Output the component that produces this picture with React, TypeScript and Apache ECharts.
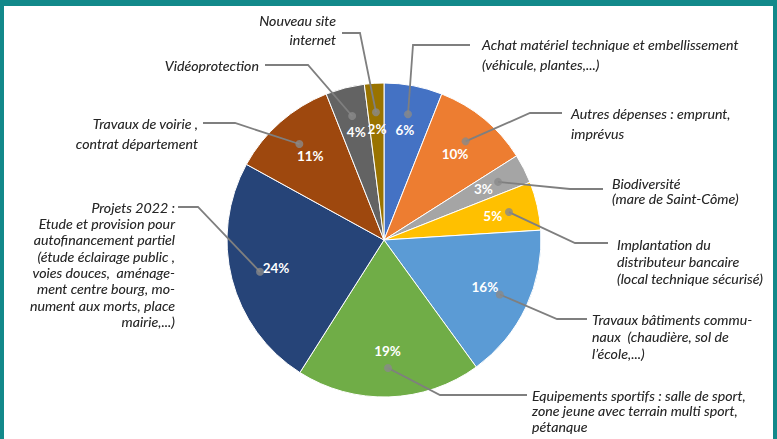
import React, { useEffect, useRef } from "react";
import * as echarts from "echarts";

// ---- Data ----
const categories: string[] = [
  "Achat matériel technique et embellissement\n(véhicule, plantes,...)",
  "Autres dépenses : emprunt,\nimprévus",
  "Biodiversité\n(mare de Saint-Côme)",
  "Implantation du\ndistributeur bancaire\n(local technique sécurisé)",
  "Travaux bâtiments commu-\nnaux  (chaudière, sol de\nl’école,...)",
  "Equipements sportifs : salle de sport,\nzone jeune avec terrain multi sport,\npétanque",
  "Projets 2022 :\nEtude et provision pour\nautofinancement partiel\n(étude éclairage public ,\nvoies douces,  aménage-\nment centre bourg, mo-\nnument aux morts, place\nmairie,...)",
  "Travaux de voirie ,\ncontrat département",
  "Vidéoprotection",
  "Nouveau site\ninternet",
];
const values: number[] = [6, 10, 3, 5, 16, 19, 24, 11, 4, 2];

// ---- Styles / layout ----
const PALETTE = [
  "#4472C4",
  "#ED7D31",
  "#A5A5A5",
  "#FFC000",
  "#5B9BD5",
  "#70AD47",
  "#264478",
  "#9E480E",
  "#636363",
  "#997300",
];

type LabelPos = {
  x: number;
  y: number;
  align: "left" | "right";
  lh: number;
  elbow: [number, number];
  end: [number, number];
};

const LABEL_POS: LabelPos[] = [
  { x: 482, y: 34, align: "left", lh: 20, elbow: [413, 45], end: [470, 45] },
  { x: 571, y: 103, align: "left", lh: 20, elbow: [530, 113], end: [562, 113] },
  { x: 612, y: 175.5, align: "left", lh: 15.5, elbow: [570, 189], end: [603, 189] },
  { x: 617, y: 235.5, align: "left", lh: 17, elbow: [575, 243], end: [608, 243] },
  { x: 592, y: 310.5, align: "left", lh: 17, elbow: [557, 319], end: [587, 319] },
  { x: 532, y: 387.5, align: "left", lh: 15.5, elbow: [440, 395], end: [527, 395] },
  { x: 175, y: 198.8, align: "right", lh: 16.4, elbow: [198, 207], end: [178, 207] },
  { x: 198, y: 113, align: "right", lh: 20, elbow: [235, 123], end: [203, 123] },
  { x: 259, y: 56, align: "right", lh: 18, elbow: [308, 65], end: [265, 65] },
  { x: 336, y: 10.5, align: "right", lh: 19, elbow: [360, 33], end: [342, 33] },
];

const CENTER: [number, number] = [384, 240];
const R = 157;
const DOT_R = 128;
const TEAL = "#12898A";
const LINE_GRAY = "#7f7f7f";

export default function App() {
  const ref = useRef<HTMLDivElement>(null);

  useEffect(() => {
    document.body.style.margin = "0";
    if (!ref.current) return;
    const chart = echarts.init(ref.current, null, { renderer: "svg" });

    const total = values.reduce((a, b) => a + b, 0);
    const mids: number[] = [];
    let acc = 0;
    values.forEach((v) => {
      mids.push(acc + v / 2);
      acc += v;
    });
    // leader-line start point (same spot as the dot), from each slice's mid angle
    const startPoint = (i: number): [number, number] => {
      const a = (mids[i] / total) * Math.PI * 2;
      return [CENTER[0] + DOT_R * Math.sin(a), CENTER[1] - DOT_R * Math.cos(a)];
    };

    chart.setOption({
      animation: false,
      backgroundColor: "#ffffff",
      graphic: [
        { type: "rect", left: 0, top: 0, shape: { width: 777, height: 6 }, style: { fill: TEAL }, silent: true },
        { type: "rect", left: 0, top: 0, shape: { width: 4, height: 439 }, style: { fill: TEAL }, silent: true },
        { type: "rect", right: 0, top: 0, shape: { width: 4, height: 439 }, style: { fill: TEAL }, silent: true },
      ],
      polar: { center: CENTER, radius: DOT_R },
      angleAxis: {
        type: "value",
        min: 0,
        max: total,
        startAngle: 90,
        clockwise: true,
        show: false,
      },
      radiusAxis: { type: "value", min: 0, max: 1, show: false },
      series: [
        {
          type: "pie",
          z: 1,
          center: CENTER,
          radius: [0, R],
          startAngle: 90,
          clockwise: true,
          silent: true,
          label: { show: false },
          labelLine: { show: false },
          itemStyle: { borderColor: "#ffffff", borderWidth: 1 },
          data: categories.map((c, i) => ({
            name: c,
            value: values[i],
            itemStyle: { color: PALETTE[i] },
          })),
        },
        {
          type: "pie",
          z: 4,
          center: CENTER,
          radius: [60, R],
          startAngle: 90,
          clockwise: true,
          silent: true,
          itemStyle: { color: "rgba(0,0,0,0)", borderWidth: 0 },
          label: {
            show: true,
            position: "inside",
            formatter: (p: any) => p.value + "%",
            color: "#ffffff",
            fontWeight: "bold",
            fontSize: 13.5,
            fontFamily: "Lato",
          },
          labelLine: { show: false },
          data: categories.map((c, i) => ({ name: c, value: values[i] })),
        },
        {
          type: "pie",
          z: 3,
          center: CENTER,
          radius: [0, DOT_R],
          startAngle: 90,
          clockwise: true,
          silent: true,
          avoidLabelOverlap: false,
          itemStyle: { color: "rgba(0,0,0,0)", borderWidth: 0 },
          label: {
            show: true,
            position: "outside",
            formatter: "{b}",
            color: "#262626",
            fontFamily: "Lato",
            fontStyle: "italic",
            fontSize: 14.2,
            textShadowColor: "rgba(0,0,0,0.25)",
            textShadowBlur: 1.5,
          },
          labelLine: {
            show: true,
            length: 10,
            length2: 10,
            lineStyle: { color: LINE_GRAY, width: 1.8 },
          },
          labelLayout: (params: any) => {
            const i = params.dataIndex;
            const L = LABEL_POS[i];
            return {
              x: L.x,
              y: L.y,
              align: L.align,
              verticalAlign: "top",
              labelLinePoints: [startPoint(i), L.elbow, L.end],
            };
          },
          data: categories.map((c, i) => ({
            name: c,
            value: values[i],
            label: { lineHeight: LABEL_POS[i].lh, align: LABEL_POS[i].align },
          })),
        },
        {
          type: "scatter",
          coordinateSystem: "polar",
          symbolSize: 8,
          z: 10,
          silent: true,
          itemStyle: { color: "#8a8a8a" },
          data: mids.map((m) => [1, m]),
        },
      ],
    });

    return () => chart.dispose();
  }, []);

  return (
    <div
      ref={ref}
      style={{ position: "absolute", left: 0, top: 0, width: 777, height: 439 }}
    />
  );
}
